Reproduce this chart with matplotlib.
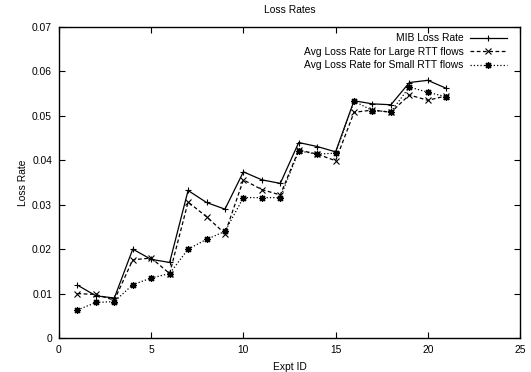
import matplotlib
matplotlib.use("Agg")
from matplotlib import pyplot as plt

plt.rcParams['font.family'] = ['Liberation Sans', 'DejaVu Sans']
plt.rcParams['font.size'] = 7.4

expt = list(range(1, 22))
mib = [0.0119, 0.0095, 0.0090, 0.0200, 0.0177, 0.0170, 0.0332, 0.0305, 0.0290,
       0.0374, 0.0356, 0.0348, 0.0440, 0.0431, 0.0419, 0.0534, 0.0527, 0.0525,
       0.0575, 0.0580, 0.0562]
large = [0.0100, 0.0098, 0.0085, 0.0176, 0.0180, 0.0145, 0.0306, 0.0273, 0.0235,
         0.0356, 0.0334, 0.0322, 0.0423, 0.0414, 0.0399, 0.0508, 0.0513, 0.0508,
         0.0547, 0.0535, 0.0545]
small = [0.0063, 0.0080, 0.0082, 0.0120, 0.0135, 0.0145, 0.0200, 0.0222, 0.0240,
         0.0316, 0.0316, 0.0316, 0.0421, 0.0414, 0.0416, 0.0533, 0.0512, 0.0509,
         0.0565, 0.0553, 0.0543]

fig = plt.figure(figsize=(5.31, 3.72), dpi=100)
ax = fig.add_axes([59 / 531, 34 / 372, 461 / 531, 311 / 372])

ax.plot(expt, mib, 'k-', marker='+', markersize=5, mew=0.8, lw=0.9,
        label='MIB Loss Rate')
ax.plot(expt, large, 'k--', marker='x', markersize=4, mew=0.8, lw=0.9,
        dashes=(3, 2), label='Avg Loss Rate for Large RTT flows')
ax.plot(expt, small, 'k:', marker=(8, 2, 0), markersize=5, mew=0.9, lw=0.9,
        label='Avg Loss Rate for Small RTT flows')

ax.set_xlim(0, 25)
ax.set_ylim(0, 0.07)
ax.set_xticks([0, 5, 10, 15, 20, 25])
ax.set_yticks([0, 0.01, 0.02, 0.03, 0.04, 0.05, 0.06, 0.07])
ax.set_yticklabels(['0', '0.01', '0.02', '0.03', '0.04', '0.05', '0.06', '0.07'])
ax.tick_params(direction='in', top=True, right=True, length=4, width=0.8, pad=5)
for s in ax.spines.values():
    s.set_linewidth(1)

ax.set_title('Loss Rates', fontsize=7.4, pad=10)
ax.set_xlabel('Expt ID', labelpad=5)
ax.set_ylabel('Loss Rate', labelpad=3)

ax.legend(loc='upper right', frameon=False, markerfirst=False,
          handlelength=3.6, handletextpad=0.6, borderaxespad=0.2,
          borderpad=0.4, labelspacing=0.35, fontsize=7.4,
          bbox_to_anchor=(0.985, 1.0))

fig.savefig('out.png', dpi=100)
